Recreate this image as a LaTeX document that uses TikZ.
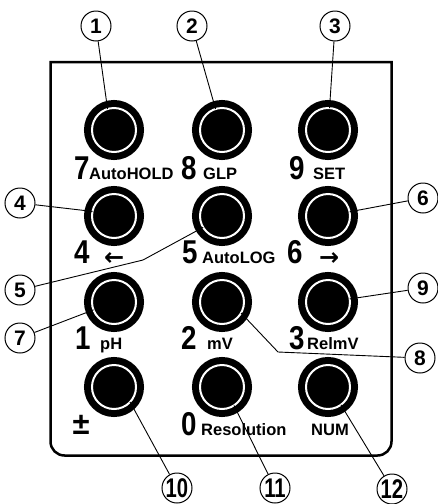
\documentclass[tikz,border=0pt]{standalone}
\usepackage{fontspec}
\usepackage{graphicx}
\setmainfont{Liberation Sans}
\newfontfamily\arrowfont{DejaVu Sans}
\newcommand\bigdig[1]{\scalebox{0.84}[1]{#1}}
\newcommand\twodig[1]{\scalebox{0.75}[1]{\fontsize{27pt}{27pt}\selectfont #1}}
\begin{document}
\begin{tikzpicture}[x=1pt,y=-1pt,
  dig/.style={anchor=base west, inner sep=0pt, font=\fontsize{33pt}{33pt}\selectfont\bfseries},
  pm/.style={anchor=base west, inner sep=0pt, font=\fontsize{31pt}{31pt}\selectfont\bfseries},
  sub/.style={anchor=base west, inner sep=0pt, font=\fontsize{16.5pt}{16.5pt}\selectfont\bfseries},
  arr/.style={anchor=base west, inner sep=0pt, font=\fontsize{24pt}{24pt}\selectfont\arrowfont\bfseries},
  btn/.style={circle, inner sep=0pt, outer sep=0pt, minimum size=44pt, fill=black,
    draw=black, line width=7pt, double=white, double distance=2pt},
  call/.style={circle, draw=black, fill=white, line width=1pt, minimum size=30pt, inner sep=0pt,
    font=\fontsize{21pt}{21pt}\selectfont\bfseries},
  lead/.style={draw=black, line width=0.9pt},
]
\fill[white] (0,0) rectangle (438,504);
\useasboundingbox (0,0) rectangle (438,504);

% panel
\draw[line width=2.5pt] (50.5,62) -- (50.5,300) [rounded corners=14pt] -- (50.5,455.5)
  -- (391.5,455.5) -- (391.5,300) [sharp corners] -- (391.5,62) -- cycle;

% buttons
\node[btn] (b1) at (114,130) {};
\node[btn] (b2) at (222,130) {};
\node[btn] (b3) at (328,130) {};
\node[btn] (b4) at (114,216) {};
\node[btn] (b5) at (222,216) {};
\node[btn] (b6) at (328,216) {};
\node[btn] (b7) at (114,302) {};
\node[btn] (b8) at (222,302) {};
\node[btn] (b9) at (328,302) {};
\node[btn] (b10) at (114,387) {};
\node[btn] (b11) at (222,387) {};
\node[btn] (b12) at (328,387) {};

% labels row 1
\node[dig] (t7) at (74,179) {\bigdig{7}};
\node[sub] (s7) at (89,179) {AutoHOLD};
\node[dig] (t8) at (181,179) {\bigdig{8}};
\node[sub] (s8) at (203,179) {GLP};
\node[dig] (t9) at (289,179) {\bigdig{9}};
\node[sub] (s9) at (313,179) {SET};
% row 2
\node[dig] (t4) at (74,263) {\bigdig{4}};
\node[arr] (a4) at (104,265) {←};
\node[dig] (t5) at (182,263) {\bigdig{5}};
\node[sub] (s5) at (202,263) {AutoLOG};
\node[dig] (t6) at (287,263) {\bigdig{6}};
\node[arr] (a6) at (319,265) {→};
% row 3
\node[dig] (t1) at (75,349) {\bigdig{1}};
\node[sub] (s1) at (100,349) {pH};
\node[dig] (t2) at (181,349) {\bigdig{2}};
\node[sub] (s2) at (207,349) {mV};
\node[dig] (t3) at (289,349) {\bigdig{3}};
\node[sub] (s3) at (307,349) {RelmV};
% row 4
\node[pm] (tpm) at (72.5,434) {±};
\node[dig] (t0) at (181,435) {\bigdig{0}};
\node[sub] (s0) at (201,435) {Resolution};
\node[sub] (snum) at (311,435) {NUM};

% callouts
\node[call] (c1) at (96,26) {1};
\node[call] (c2) at (192,26) {2};
\node[call] (c3) at (335,26) {3};
\node[call] (c4) at (20,203) {4};
\node[call] (c5) at (20,290) {5};
\node[call] (c6) at (423,198) {6};
\node[call] (c7) at (20,338) {7};
\node[call] (c8) at (420,358) {8};
\node[call] (c9) at (423,288) {9};
\node[call] (c10) at (177,488) {\twodig{10}};
\node[call] (c11) at (275,488) {\twodig{11}};
\node[call] (c12) at (392,489) {\twodig{12}};

% bends
\coordinate (k5) at (143,260);
\coordinate (k8) at (278,352);

% leaders
\draw[lead] (c1) -- (b1.107);
\draw[lead] (c2) -- (b2.107);
\draw[lead] (c3) -- (b3.86);
\draw[lead] (c4) -- (b4.168);
\draw[lead] (c5) -- (k5) -- (b5.211);
\draw[lead] (c6) -- (b6.11);
\draw[lead] (c7) -- (b7.201);
\draw[lead] (c8) -- (k8) -- (b8.330);
\draw[lead] (c9) -- (b9.8);
\draw[lead] (c10) -- (b10.317);
\draw[lead] (c11) -- (b11.303);
\draw[lead] (c12) -- (b12.306);
\end{tikzpicture}
\end{document}
